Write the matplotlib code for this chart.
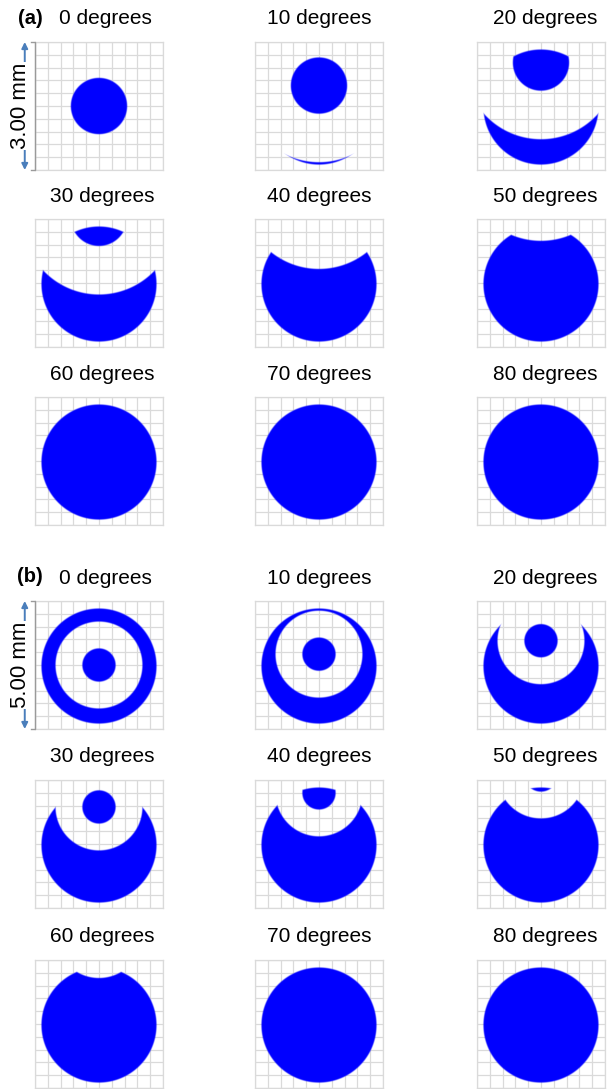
import numpy as np
import matplotlib
matplotlib.use("Agg")
import matplotlib.pyplot as plt

plt.rcParams['font.family'] = ['Liberation Sans', 'DejaVu Sans']

# Tilt angles shown in each group (degrees)
angles = [0, 10, 20, 30, 40, 50, 60, 70, 80]

# Vertical offset (grid cells) of the spot / hole centre for each angle
offset_a = [0.0, 1.6, 3.4, 5.1, 7.1, 9.3, 11.5, 13.8, 16.0]
offset_b = [0.0, 0.85, 1.9, 2.9, 4.0, 5.4, 7.0, 8.2, 9.5]

# Radii (grid cells): central spot, clear hole around it, outer aperture
spot_r_a, hole_r_a = 2.2, 6.0
spot_r_b, hole_r_b = 1.3, 3.4
aperture_r = 4.5
aperture_cy = -0.08

group_labels = ["(a)", "(b)"]
span_labels = ["3.00 mm", "5.00 mm"]

W, H = 607, 1089
fig = plt.figure(figsize=(W / 100, H / 100), dpi=100)
fig.patch.set_facecolor("white")

col_x = [35, 255, 477]
title_dx = [3, 0, 4]
row_y = [[42, 219, 397], [601, 780, 960]]
size = 128
BLUE = (0.0, 0.0, 1.0)
GRID = "#dadada"

N = 640
g = np.linspace(-5, 5, N)
X, Y = np.meshgrid(g, g)
px_unit = 10.0 / size


def coverage(s, spot_r, hole_r):
    d_ap = np.hypot(X, Y - aperture_cy)
    d_c = np.hypot(X, Y - s)
    sd_ap = aperture_r - d_ap
    sd_out = d_c - hole_r
    sd_spot = spot_r - d_c
    sd = np.minimum(sd_ap, np.maximum(sd_out, sd_spot))
    return np.clip(sd / (1.3 * px_unit) + 0.5, 0, 1)


def fig_rect(x0, y0):
    return [x0 / W, 1 - (y0 + size) / H, size / W, size / H]


groups = [(offset_a, spot_r_a, hole_r_a), (offset_b, spot_r_b, hole_r_b)]

for gi, (offsets, spot_r, hole_r) in enumerate(groups):
    for k, ang in enumerate(angles):
        r, c = divmod(k, 3)
        x0, y0 = col_x[c], row_y[gi][r]
        ax = fig.add_axes(fig_rect(x0, y0))
        ax.set_xlim(-5, 5)
        ax.set_ylim(-5, 5)
        ax.set_xticks(np.arange(-5, 6))
        ax.set_yticks(np.arange(-5, 6))
        ax.tick_params(length=0, labelbottom=False, labelleft=False)
        ax.grid(True, color=GRID, lw=0.9)
        ax.set_axisbelow(True)
        for sp in ax.spines.values():
            sp.set_color(GRID)
            sp.set_linewidth(0.9)

        a = coverage(offsets[k], spot_r, hole_r)
        rgba = np.zeros((N, N, 4))
        rgba[..., 0], rgba[..., 1], rgba[..., 2] = BLUE
        rgba[..., 3] = a
        ax.imshow(rgba, extent=(-5, 5, -5, 5), origin="lower",
                  interpolation="antialiased", zorder=3)

        title = f"{ang} degrees"
        cx = x0 + size / 2 + title_dx[c]
        if k == 0:
            cx = x0 + size / 2 + 6
            fig.text(30 / W, 1 - (y0 - 24) / H, group_labels[gi],
                     ha="center", va="center", fontsize=14.5,
                     fontweight="bold")
        fig.text(cx / W, 1 - (y0 - 23) / H, title, ha="center",
                 va="center", fontsize=15)

        if k == 0:
            # scale bar with double arrow on the left of the first panel
            ax.plot([-0.035, 0, 0, -0.035], [1, 1, 0, 0], color="#9a9a9a",
                    lw=1.0, transform=ax.transAxes, clip_on=False, zorder=5)
            ax.annotate("", xy=(-0.08, 1.0), xytext=(-0.08, 0.0),
                        xycoords="axes fraction", textcoords="axes fraction",
                        arrowprops=dict(arrowstyle="<|-|>", color="#4a7ebb",
                                        lw=1.4, mutation_scale=9,
                                        shrinkA=0, shrinkB=0))
            ax.text(-0.115, 0.5, span_labels[gi], rotation=90,
                    transform=ax.transAxes, ha="center", va="center",
                    fontsize=16, zorder=6,
                    bbox=dict(facecolor="white", edgecolor="none", pad=0.5))

fig.savefig("out.png", dpi=100, facecolor="white")
